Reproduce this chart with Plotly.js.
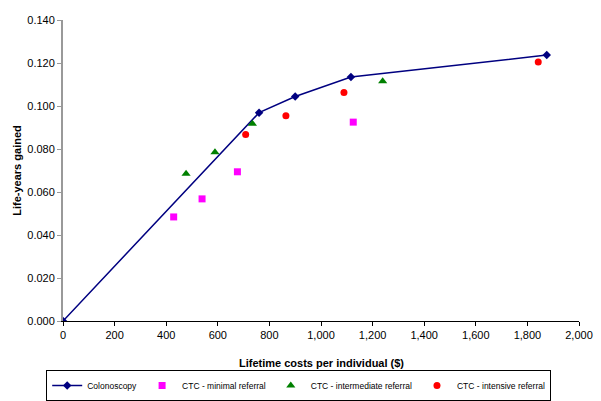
<!DOCTYPE html>
<html>
<head>
<meta charset="utf-8">
<script src="https://cdn.plot.ly/plotly-3.0.1.min.js"></script>
<style>html,body{margin:0;padding:0;background:#fff;}#chart{width:601px;height:401px;}</style>
</head>
<body>
<div id="chart"></div>
<script>
// Colonoscopy efficient frontier
var colonoscopyCost = [0, 760, 900, 1116, 1875];
var colonoscopyLY   = [0, 0.0969, 0.1044, 0.1135, 0.1237];
// CTC - minimal referral
var minimalCost = [429, 539, 676, 1125];
var minimalLY   = [0.0484, 0.0568, 0.0694, 0.0925];
// CTC - intermediate referral
var intermediateCost = [477, 589, 734, 1239];
var intermediateLY   = [0.0685, 0.0785, 0.0918, 0.1115];
// CTC - intensive referral
var intensiveCost = [708, 864, 1089, 1842];
var intensiveLY   = [0.0868, 0.0955, 0.1063, 0.1205];

var seriesNames = ['Colonoscopy', 'CTC - minimal referral', 'CTC - intermediate referral', 'CTC - intensive referral'];
var xTitle = 'Lifetime costs per individual ($)';
var yTitle = 'Life-years gained';

var font = 'Liberation Sans, Arial, sans-serif';

var traces = [
  {x: colonoscopyCost, y: colonoscopyLY, name: seriesNames[0], type: 'scatter', mode: 'lines+markers',
   line: {color: '#000080', width: 1.5}, marker: {symbol: 'diamond', size: 6.5, color: '#000080'}},
  {x: minimalCost, y: minimalLY, name: seriesNames[1], type: 'scatter', mode: 'markers',
   marker: {symbol: 'square', size: 7, color: '#FF00FF'}},
  {x: intermediateCost, y: intermediateLY, name: seriesNames[2], type: 'scatter', mode: 'markers',
   marker: {symbol: 'triangle-up', size: 8, color: '#008000'}},
  {x: intensiveCost, y: intensiveLY, name: seriesNames[3], type: 'scatter', mode: 'markers',
   marker: {symbol: 'circle', size: 7, color: '#FF0000'}}
];

var layout = {
  width: 601, height: 401,
  margin: {l: 63, r: 22, t: 20, b: 80},
  paper_bgcolor: '#fff', plot_bgcolor: '#fff',
  font: {family: font, size: 11, color: '#000'},
  showlegend: true,
  xaxis: {
    range: [0, 2000], dtick: 200, tick0: 0, tickformat: ',d',
    showgrid: false, zeroline: false, showline: true, linecolor: '#000', linewidth: 1,
    ticks: 'outside', ticklen: 4, tickcolor: '#000',
    tickfont: {family: font, size: 11, color: '#000'},
    automargin: false
  },
  yaxis: {
    range: [0, 0.14], dtick: 0.02, tick0: 0, tickformat: '.3f',
    showgrid: false, zeroline: false, showline: true, linecolor: '#999', linewidth: 2,
    ticks: 'outside', ticklen: 4, tickcolor: '#999',
    tickfont: {family: font, size: 11, color: '#000'},
    title: {text: yTitle, font: {family: font, size: 11, color: '#000', weight: 'bold'}, standoff: 3}
  },
  annotations: [{
    text: '<b>' + xTitle + '</b>', xref: 'paper', yref: 'paper', x: 0.5, y: -0.14,
    xanchor: 'center', yanchor: 'middle', showarrow: false,
    font: {family: font, size: 11, color: '#000'}
  }],
  legend: {
    orientation: 'h', xref: 'container', yref: 'container',
    x: 0.497, xanchor: 'center', y: 0.0, yanchor: 'bottom',
    bordercolor: '#000', borderwidth: 1, bgcolor: '#fff',
    font: {family: font, size: 8.5, color: '#000'},
    itemwidth: 30, tracegroupgap: 0
  }
};

Plotly.newPlot('chart', traces, layout, {displayModeBar: false, staticPlot: true});
</script>
</body>
</html>
